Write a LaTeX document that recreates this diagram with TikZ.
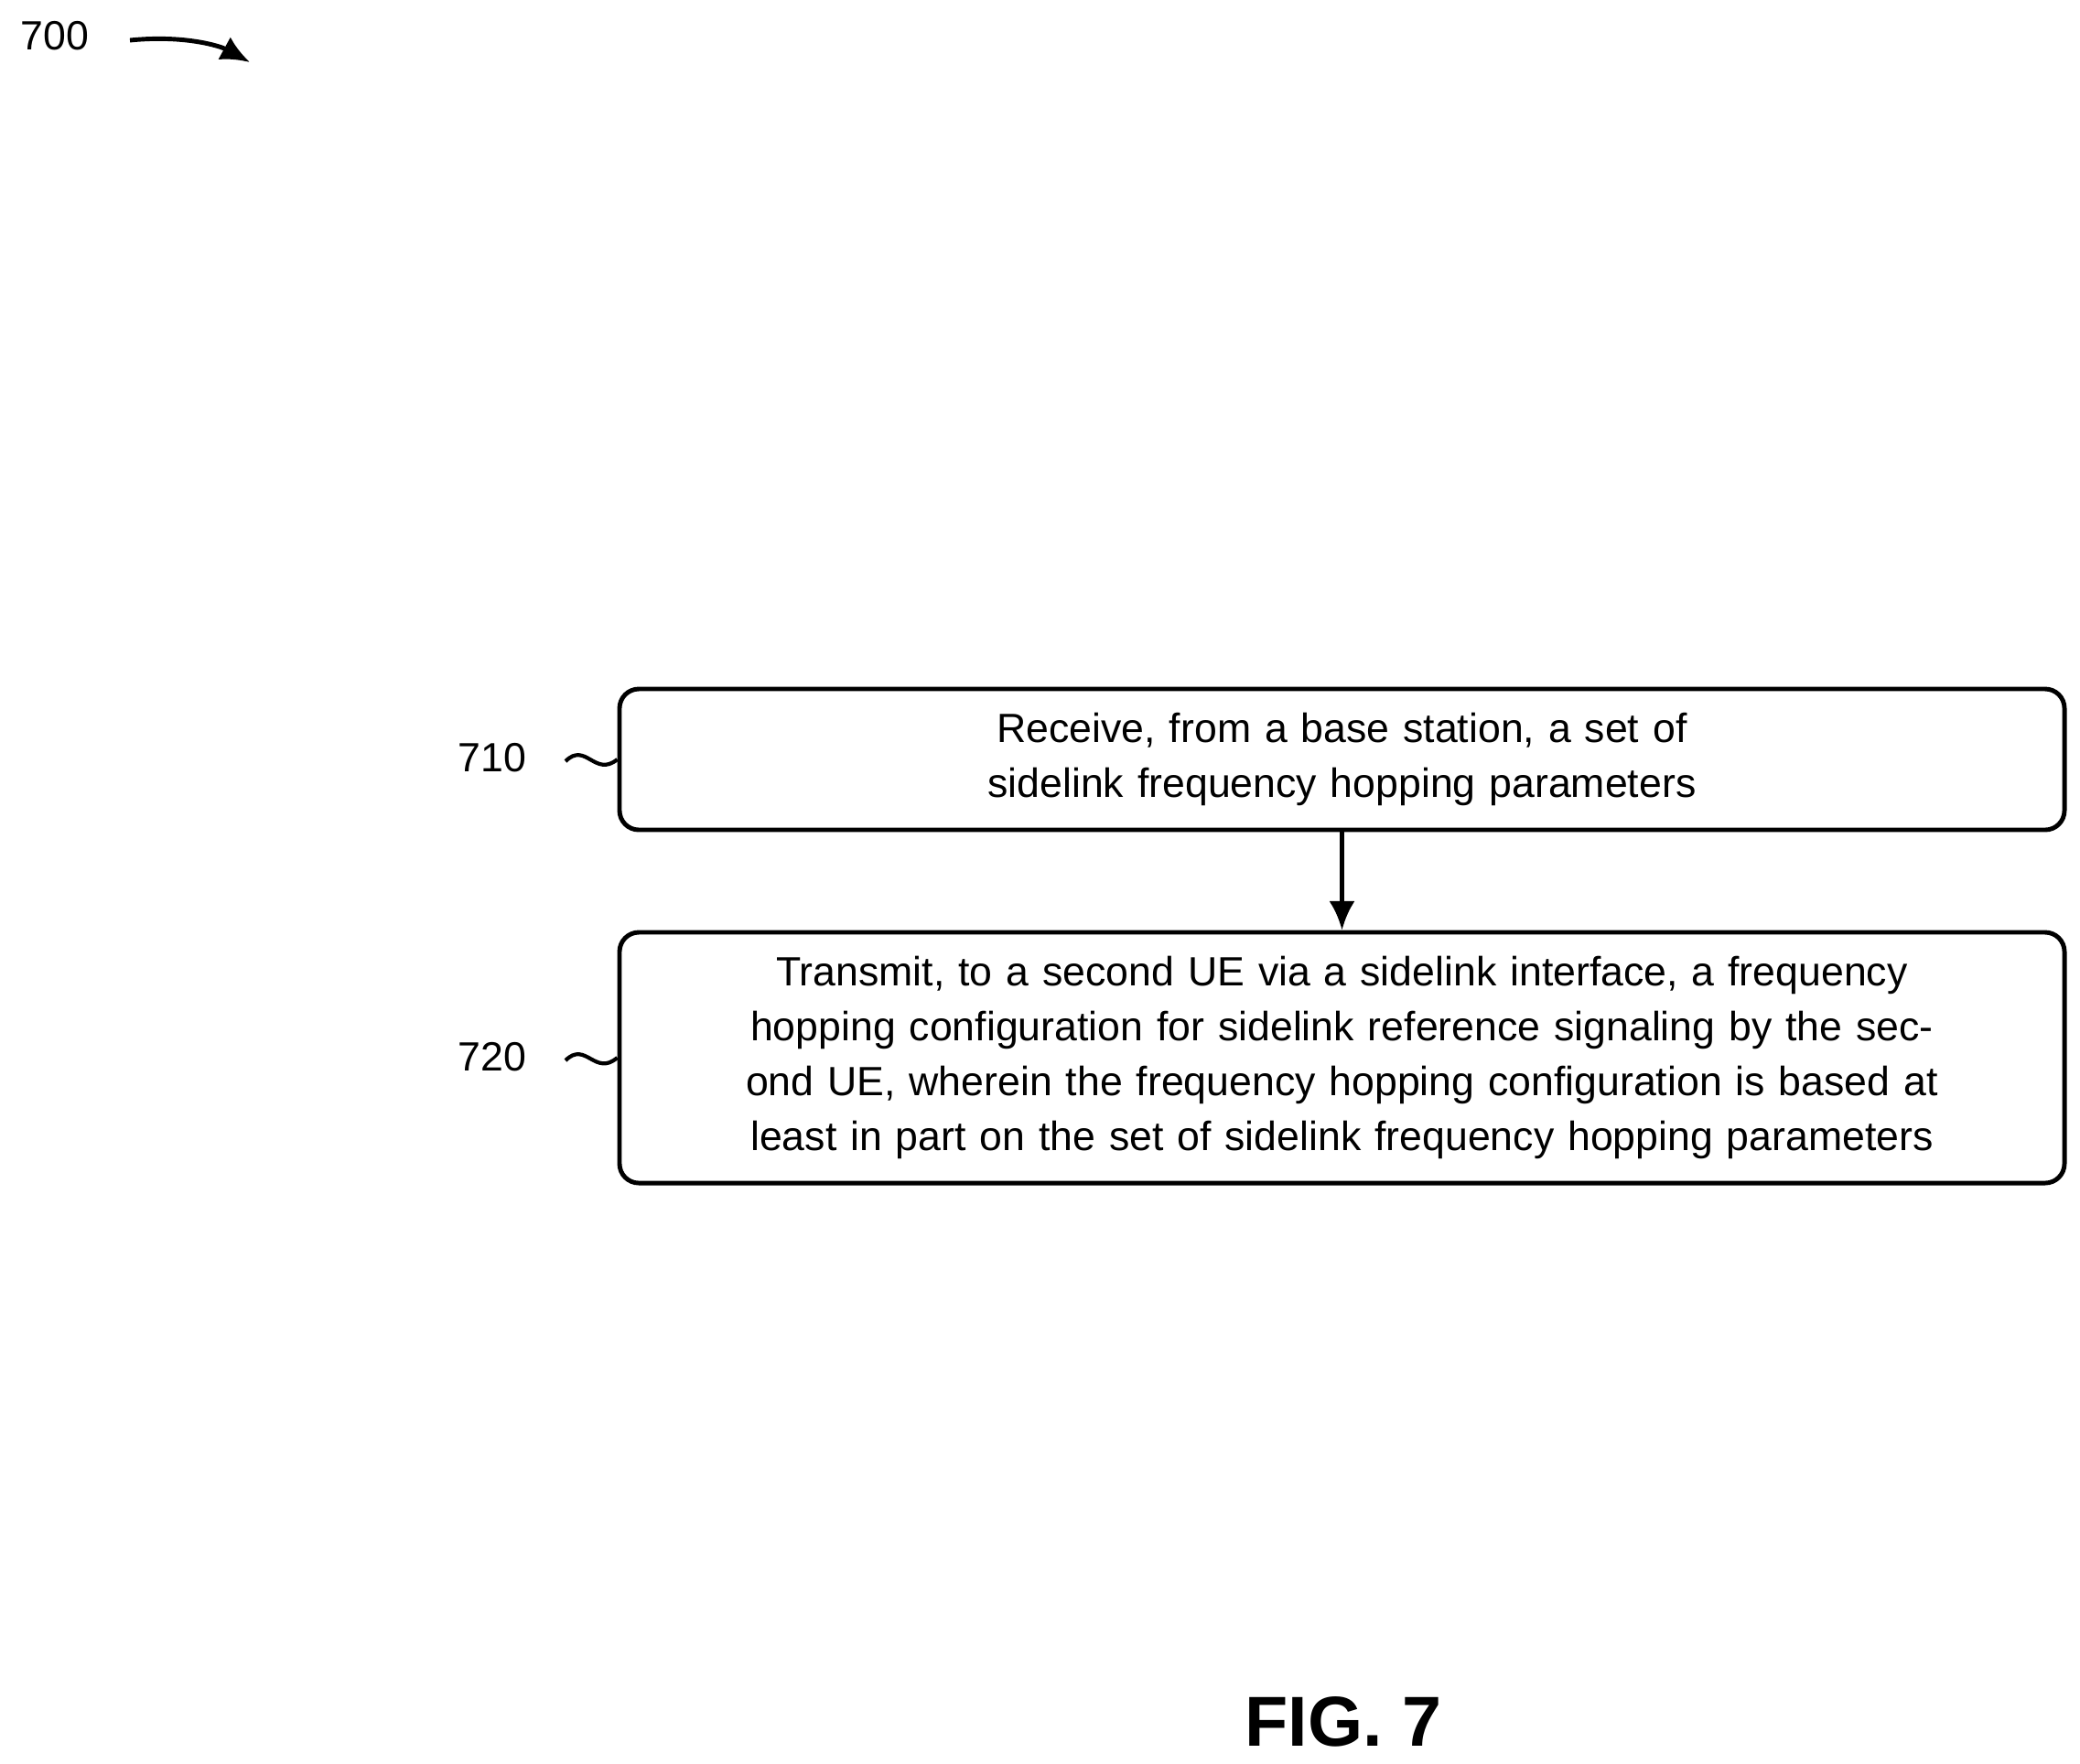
\documentclass[tikz,border=0pt]{standalone}
\usepackage{fontspec}
\setmainfont{Liberation Sans}
\usetikzlibrary{positioning}
\usetikzlibrary{arrows.meta}
\begin{document}
\begin{tikzpicture}[x=1cm,y=1cm,
    flowbox/.style={draw, line width=1.4pt, rounded corners=6pt, minimum width=15.79cm,
                 text width=15.4cm, align=center, font=\fontsize{12.7pt}{17pt}\selectfont},
    ref/.style={font=\fontsize{12.7pt}{17pt}\selectfont}]
\useasboundingbox (0,0) rectangle (22.73,-19.27);

\node[ref] (n700) at (0.6,-0.39) {700};
\coordinate (a700) at (2.73,-0.68);
\draw[line width=1.4pt,-{Latex[length=9pt,width=8pt]}] (1.42,-0.44) .. controls (2.0,-0.38) and (2.4,-0.5) .. (a700);

\node[flowbox, minimum height=1.54cm] (s710) at (14.665,-8.30)
  {Receive, from a base station, a set of sidelink frequency hopping parameters};
\node[flowbox, minimum height=2.74cm] (s720) at (14.665,-11.56)
  {Transmit, to a second UE via a sidelink interface, a frequency hopping configuration for sidelink reference signaling by the second UE, wherein the frequency hopping configuration is based at least in part on the set of sidelink frequency hopping parameters};
\draw[line width=1.4pt,-{Latex[length=9pt,width=8pt]}] (s710) -- (s720);

\node[ref] (n710) at (5.38,-8.28) {710};
\node[ref] (n720) at (5.38,-11.55) {720};
\draw[line width=1.2pt] (6.18,-8.32) .. controls (6.4,-8.1) and (6.5,-8.5) .. (s710.west);
\draw[line width=1.2pt] (6.18,-11.59) .. controls (6.4,-11.37) and (6.5,-11.77) .. (s720.west);

\node[font=\bfseries\fontsize{22pt}{26pt}\selectfont] (fig) at (14.68,-18.82) {FIG. 7};
\end{tikzpicture}
\end{document}
